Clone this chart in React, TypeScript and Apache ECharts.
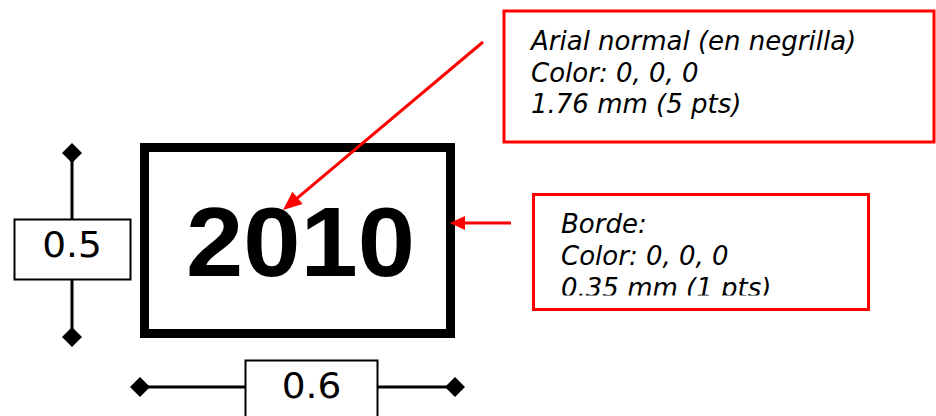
import React, { useEffect, useRef } from "react";
import * as echarts from "echarts";

const yearLabel = ["2010"];
const heightLabel = ["0.5"];
const widthLabel = ["0.6"];
const fontNote = ["Arial normal (en negrilla)", "Color: 0, 0, 0", "1.76 mm (5 pts)"];
const borderNote = ["Borde:", "Color: 0, 0, 0", "0.35 mm (1 pts)"];

function arrow(x1: number, y1: number, x2: number, y2: number, color: string, len: number, half: number, lw: number) {
  const dx = x2 - x1, dy = y2 - y1;
  const L = Math.sqrt(dx * dx + dy * dy);
  const ux = dx / L, uy = dy / L;
  const bx = x2 - ux * len, by = y2 - uy * len;
  const px = -uy, py = ux;
  return [
    { type: "line", shape: { x1, y1, x2: bx + ux * 2, y2: by + uy * 2 }, style: { stroke: color, lineWidth: lw } },
    {
      type: "polygon",
      shape: { points: [[x2, y2], [bx + px * half, by + py * half], [bx - px * half, by - py * half]] },
      style: { fill: color },
    },
  ];
}

function diamond(cx: number, cy: number, r: number) {
  return {
    type: "polygon",
    shape: { points: [[cx, cy - r], [cx + r, cy], [cx, cy + r], [cx - r, cy]] },
    style: { fill: "#000" },
  };
}

// y of "middle" anchor for a given baseline
const mid = (baseline: number, size: number) => baseline - 0.346 * size;

export default function App() {
  const ref = useRef<HTMLDivElement>(null);
  useEffect(() => {
    document.body.style.margin = "0";
    const chart = echarts.init(ref.current!, null, { renderer: "svg" });
    const red = "#ff0000";
    const noteFont = "'DejaVu Sans', Verdana, sans-serif";
    const noteSize = 26;
    const elements: any[] = [
      // main box
      { type: "rect", shape: { x: 144.5, y: 147.5, width: 306, height: 186 }, style: { fill: "#fff", stroke: "#000", lineWidth: 9 } },
      {
        type: "text", x: 300.5, y: mid(276, 99), scaleX: 1.04,
        style: { text: yearLabel[0], font: "bold 99px 'Liberation Sans', Arial, sans-serif", fill: "#000", align: "center", verticalAlign: "middle" },
      },
      // vertical dimension
      { type: "line", shape: { x1: 72, y1: 153, x2: 72, y2: 337 }, style: { stroke: "#000", lineWidth: 3 } },
      diamond(72, 153, 10),
      diamond(72, 337, 10),
      { type: "rect", shape: { x: 14.5, y: 219.5, width: 116, height: 60 }, style: { fill: "#fff", stroke: "#000", lineWidth: 2 } },
      {
        type: "text", x: 72, y: mid(257, 35), scaleX: 1.07,
        style: { text: heightLabel[0], font: "35px 'DejaVu Sans', sans-serif", fill: "#000", align: "center", verticalAlign: "middle" },
      },
      // horizontal dimension
      { type: "line", shape: { x1: 140, y1: 387, x2: 455, y2: 387 }, style: { stroke: "#000", lineWidth: 3 } },
      diamond(140, 387, 10),
      diamond(455, 387, 10),
      { type: "rect", shape: { x: 245.5, y: 360.5, width: 132, height: 70 }, style: { fill: "#fff", stroke: "#000", lineWidth: 2 } },
      {
        type: "text", x: 311.5, y: mid(398, 35), scaleX: 1.07,
        style: { text: widthLabel[0], font: "35px 'DejaVu Sans', sans-serif", fill: "#000", align: "center", verticalAlign: "middle" },
      },
      // top note box
      { type: "rect", shape: { x: 504, y: 11, width: 430, height: 131 }, style: { fill: "#fff", stroke: red, lineWidth: 3 } },
      ...fontNote.map((t, i) => ({
        type: "text", x: 531, y: mid(50 + i * 31.7, noteSize),
        style: { text: t, font: `italic ${noteSize}px ${noteFont}`, fill: "#000", align: "left", verticalAlign: "middle" },
      })),
      // border note box
      { type: "rect", shape: { x: 533.5, y: 194.5, width: 335, height: 115 }, style: { fill: "#fff", stroke: red, lineWidth: 3 } },
      ...borderNote.map((t, i) => ({
        type: "text", x: 561, y: mid(233.3 + i * 31.7, noteSize),
        style: { text: t, font: `italic ${noteSize}px ${noteFont}`, fill: "#000", align: "left", verticalAlign: "middle" },
      })),
      // clip bottom of last line
      { type: "rect", shape: { x: 536, y: 295.5, width: 330, height: 12 }, style: { fill: "#fff" } },
      // arrows
      ...arrow(483, 42, 283, 210, red, 19, 8, 3),
      ...arrow(511, 223, 450, 223, red, 15, 7, 3),
    ];
    chart.setOption({
      animation: false,
      backgroundColor: "#fff",
      graphic: { elements },
    });
    return () => chart.dispose();
  }, []);
  return <div ref={ref} style={{ width: 936, height: 416 }} />;
}
